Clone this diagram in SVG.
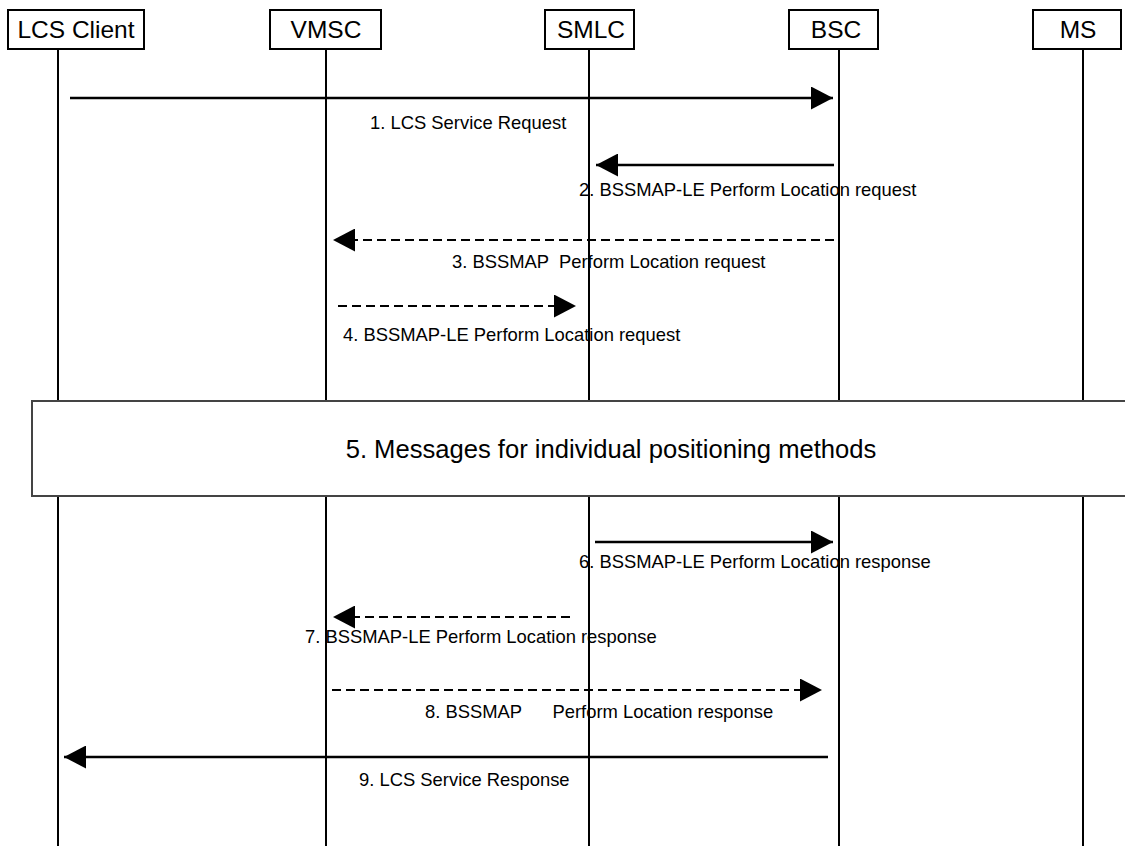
<svg xmlns="http://www.w3.org/2000/svg" width="1125" height="848" viewBox="0 0 1125 848">
<style>
.box{fill:#fff;stroke:#000;stroke-width:2}
.life{stroke:#000;stroke-width:2}
.lbl{font-family:"Liberation Sans",Arial,sans-serif;font-size:24.5px;fill:#000;text-anchor:middle}
.msg{font-family:"Liberation Sans",Arial,sans-serif;font-size:18.4px;fill:#000}
.solid{stroke:#000;stroke-width:2.5;fill:none}
.dash{stroke:#000;stroke-width:2;stroke-dasharray:9 5;fill:none}
.big{font-family:"Liberation Sans",Arial,sans-serif;font-size:25.6px;fill:#000;text-anchor:middle}
</style>
<defs>
<marker id="ah" markerUnits="userSpaceOnUse" markerWidth="22" markerHeight="23" refX="22" refY="11.5" orient="auto">
<path d="M0,0 L22,11.5 L0,23 z" fill="#000"/>
</marker>
</defs>
<g id="lifelines">
<line class="life" x1="58" y1="49" x2="58" y2="846"/>
<line class="life" x1="326" y1="49" x2="326" y2="846"/>
<line class="life" x1="589" y1="49" x2="589" y2="846"/>
<line class="life" x1="839" y1="49" x2="839" y2="846"/>
<line class="life" x1="1083" y1="49" x2="1083" y2="846"/>
</g>
<g id="lcs-client"><rect class="box" x="8" y="10" width="136" height="39"/><text class="lbl" x="76" y="38">LCS Client</text></g>
<g id="vmsc"><rect class="box" x="270" y="10" width="111" height="39"/><text class="lbl" x="326" y="38">VMSC</text></g>
<g id="smlc"><rect class="box" x="545" y="10" width="89" height="39"/><text class="lbl" x="591" y="38">SMLC</text></g>
<g id="bsc"><rect class="box" x="789" y="10" width="89" height="39"/><text class="lbl" x="836" y="38">BSC</text></g>
<g id="ms"><rect class="box" x="1033" y="10" width="88" height="39"/><text class="lbl" x="1078" y="38">MS</text></g>
<g id="step5"><rect x="32" y="401" width="1110" height="95" fill="#fff" stroke="#444" stroke-width="2"/><text class="big" x="611" y="458">5. Messages for individual positioning methods</text></g>
<g id="connectors">
<line class="solid" x1="70" y1="98" x2="833" y2="98" marker-end="url(#ah)"/>
<line class="solid" x1="834" y1="165" x2="596" y2="165" marker-end="url(#ah)"/>
<line class="dash" x1="834" y1="240" x2="333" y2="240" marker-end="url(#ah)"/>
<line class="dash" x1="338" y1="306" x2="576" y2="306" marker-end="url(#ah)"/>
<line class="solid" x1="595" y1="542" x2="833" y2="542" marker-end="url(#ah)"/>
<line class="dash" x1="570" y1="617" x2="333" y2="617" marker-end="url(#ah)"/>
<line class="dash" x1="332" y1="690" x2="822" y2="690" marker-end="url(#ah)"/>
<line class="solid" x1="828" y1="757" x2="64" y2="757" marker-end="url(#ah)"/>
</g>
<g id="labels">
<text class="msg" x="370" y="129">1. LCS Service Request</text>
<text class="msg" x="579" y="196">2. BSSMAP-LE Perform Location request</text>
<text class="msg" xml:space="preserve" x="452" y="268">3. BSSMAP  Perform Location request</text>
<text class="msg" x="343" y="341">4. BSSMAP-LE Perform Location request</text>
<text class="msg" x="579" y="568">6. BSSMAP-LE Perform Location response</text>
<text class="msg" x="305" y="643">7. BSSMAP-LE Perform Location response</text>
<text class="msg" xml:space="preserve" x="425" y="718">8. BSSMAP      Perform Location response</text>
<text class="msg" x="359" y="786">9. LCS Service Response</text>
</g>
</svg>
